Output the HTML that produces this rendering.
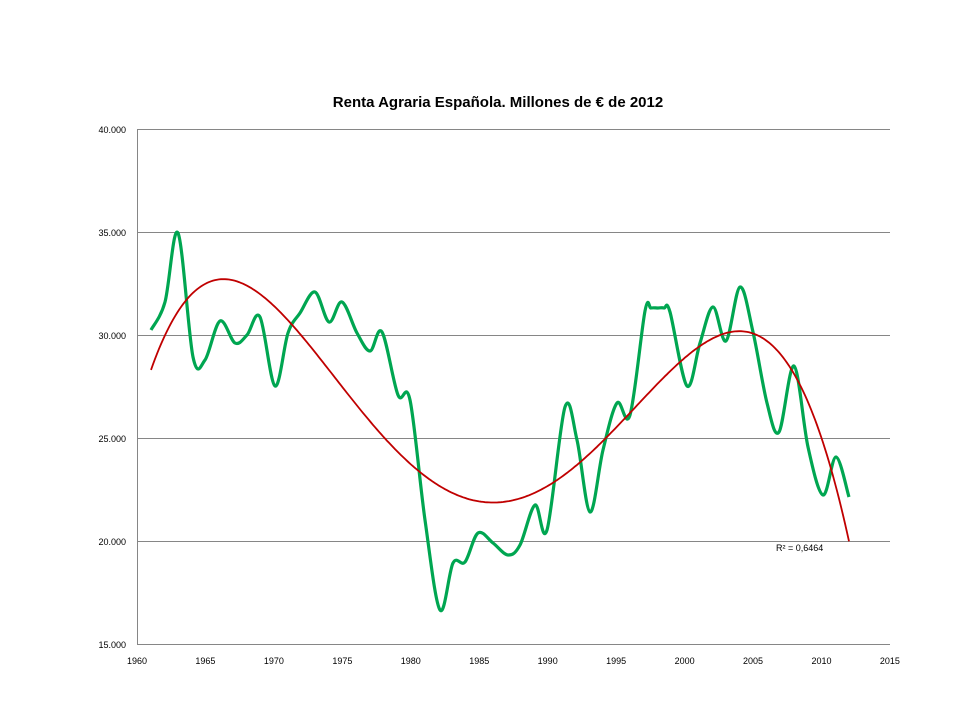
<!DOCTYPE html>
<html><head><meta charset="utf-8"><style>
body{margin:0;background:#fff;}
svg{display:block;font-family:"Liberation Sans",sans-serif;}
</style></head><body>
<svg id="s" width="960" height="720" xmlns="http://www.w3.org/2000/svg">
<text x="498" y="107" text-anchor="middle" font-size="15" font-weight="bold" fill="#000">Renta Agraria  Española. Millones de € de 2012</text>
<g stroke="#868686" stroke-width="1">
<line x1="137" y1="129.5" x2="890" y2="129.5"/>
<line x1="137" y1="232.5" x2="890" y2="232.5"/>
<line x1="137" y1="335.5" x2="890" y2="335.5"/>
<line x1="137" y1="438.5" x2="890" y2="438.5"/>
<line x1="137" y1="541.5" x2="890" y2="541.5"/>
<line x1="137" y1="644.5" x2="890" y2="644.5"/>
<line x1="137.5" y1="129" x2="137.5" y2="644"/>
</g>
<g font-size="9" fill="#000" text-anchor="end">
<text x="126" y="133">40.000</text>
<text x="126" y="236">35.000</text>
<text x="126" y="339">30.000</text>
<text x="126" y="442">25.000</text>
<text x="126" y="545">20.000</text>
<text x="126" y="648">15.000</text>
</g>
<g font-size="9" fill="#000" text-anchor="middle" id="xl"></g>
<path id="g" fill="none" stroke="#00a651" stroke-width="3.2" stroke-linejoin="round"/>
<path id="r" fill="none" stroke="#c00000" stroke-width="1.8"/>
<text x="776" y="551" font-size="9" fill="#000">R² = 0,6464</text>
</svg>
<script>
function cr(p){var d="M"+p[0][0]+","+p[0][1];for(var i=0;i<p.length-1;i++){var a=p[i-1]||p[i],b=p[i],c=p[i+1],e=p[i+2]||c;
d+=" C"+(b[0]+(c[0]-a[0])/6).toFixed(1)+","+(b[1]+(c[1]-a[1])/6).toFixed(1)+" "+(c[0]-(e[0]-b[0])/6).toFixed(1)+","+(c[1]-(e[1]-b[1])/6).toFixed(1)+" "+c[0]+","+c[1];}return d;}
var g=[[151,330],[165,302],[178,233],[193,357],[205,360],[220,321],[235,343],[247,335],[260,317],[275,386],[288,333],[300,313],[315,292],[329,322],[342,302],[357,333],[370,351],[382,332],[398,395],[410,400],[425,520],[440,610],[453,563],[465,562],[478,533],[493,543],[508,555],[520,545],[535,505],[547,530],[565,407],[577,440],[590,512],[603,450],[617,403],[630,415],[645,311],[651,308],[658,308],[664,308],[670,312],[687,386],[700,343],[713,307],[726,341],[740,287],[753,332],[767,403],[779,432],[794,366],[808,447],[823,495],[836,457],[849,497]];
var r=[[152,368],[173,317],[197,290],[225,281],[247,287],[273,306],[303,333],[343,387],[383,437],[417,472],[450,492],[490,503],[523,497],[557,480],[607,433],[657,388],[707,340],[737,332],[767,343],[793,370],[820,437],[837,483],[849,546]];
document.getElementById("g").setAttribute("d",cr(g));
// polynomial fit degree 6
function fit(pts,deg){var n=deg+1,A=[],B=[];for(var i=0;i<n;i++){A.push(new Array(n).fill(0));B.push(0);}
pts.forEach(function(p){var x=(p[0]-500)/350;for(var i=0;i<n;i++){for(var j=0;j<n;j++)A[i][j]+=Math.pow(x,i+j);B[i]+=p[1]*Math.pow(x,i);}});
for(var i=0;i<n;i++){var m=i;for(var k=i+1;k<n;k++)if(Math.abs(A[k][i])>Math.abs(A[m][i]))m=k;var t=A[i];A[i]=A[m];A[m]=t;t=B[i];B[i]=B[m];B[m]=t;
for(var k=i+1;k<n;k++){var f=A[k][i]/A[i][i];for(var j=i;j<n;j++)A[k][j]-=f*A[i][j];B[k]-=f*B[i];}}
var c=new Array(n);for(var i=n-1;i>=0;i--){var s=B[i];for(var j=i+1;j<n;j++)s-=A[i][j]*c[j];c[i]=s/A[i][i];}return c;}
var c=fit(r,6),d="";
for(var x=151;x<=849;x+=2){var u=(x-500)/350,y=0;for(var i=0;i<c.length;i++)y+=c[i]*Math.pow(u,i);d+=(d?" L":"M")+x+","+y.toFixed(1);}
document.getElementById("r").setAttribute("d",d);
var xl=document.getElementById("xl"),s="";
for(var y=1960;y<=2015;y+=5){s+='<text x="'+(137+(y-1960)*13.69).toFixed(1)+'" y="664">'+y+'</text>';}
xl.innerHTML=s;
</script>
</body></html>
